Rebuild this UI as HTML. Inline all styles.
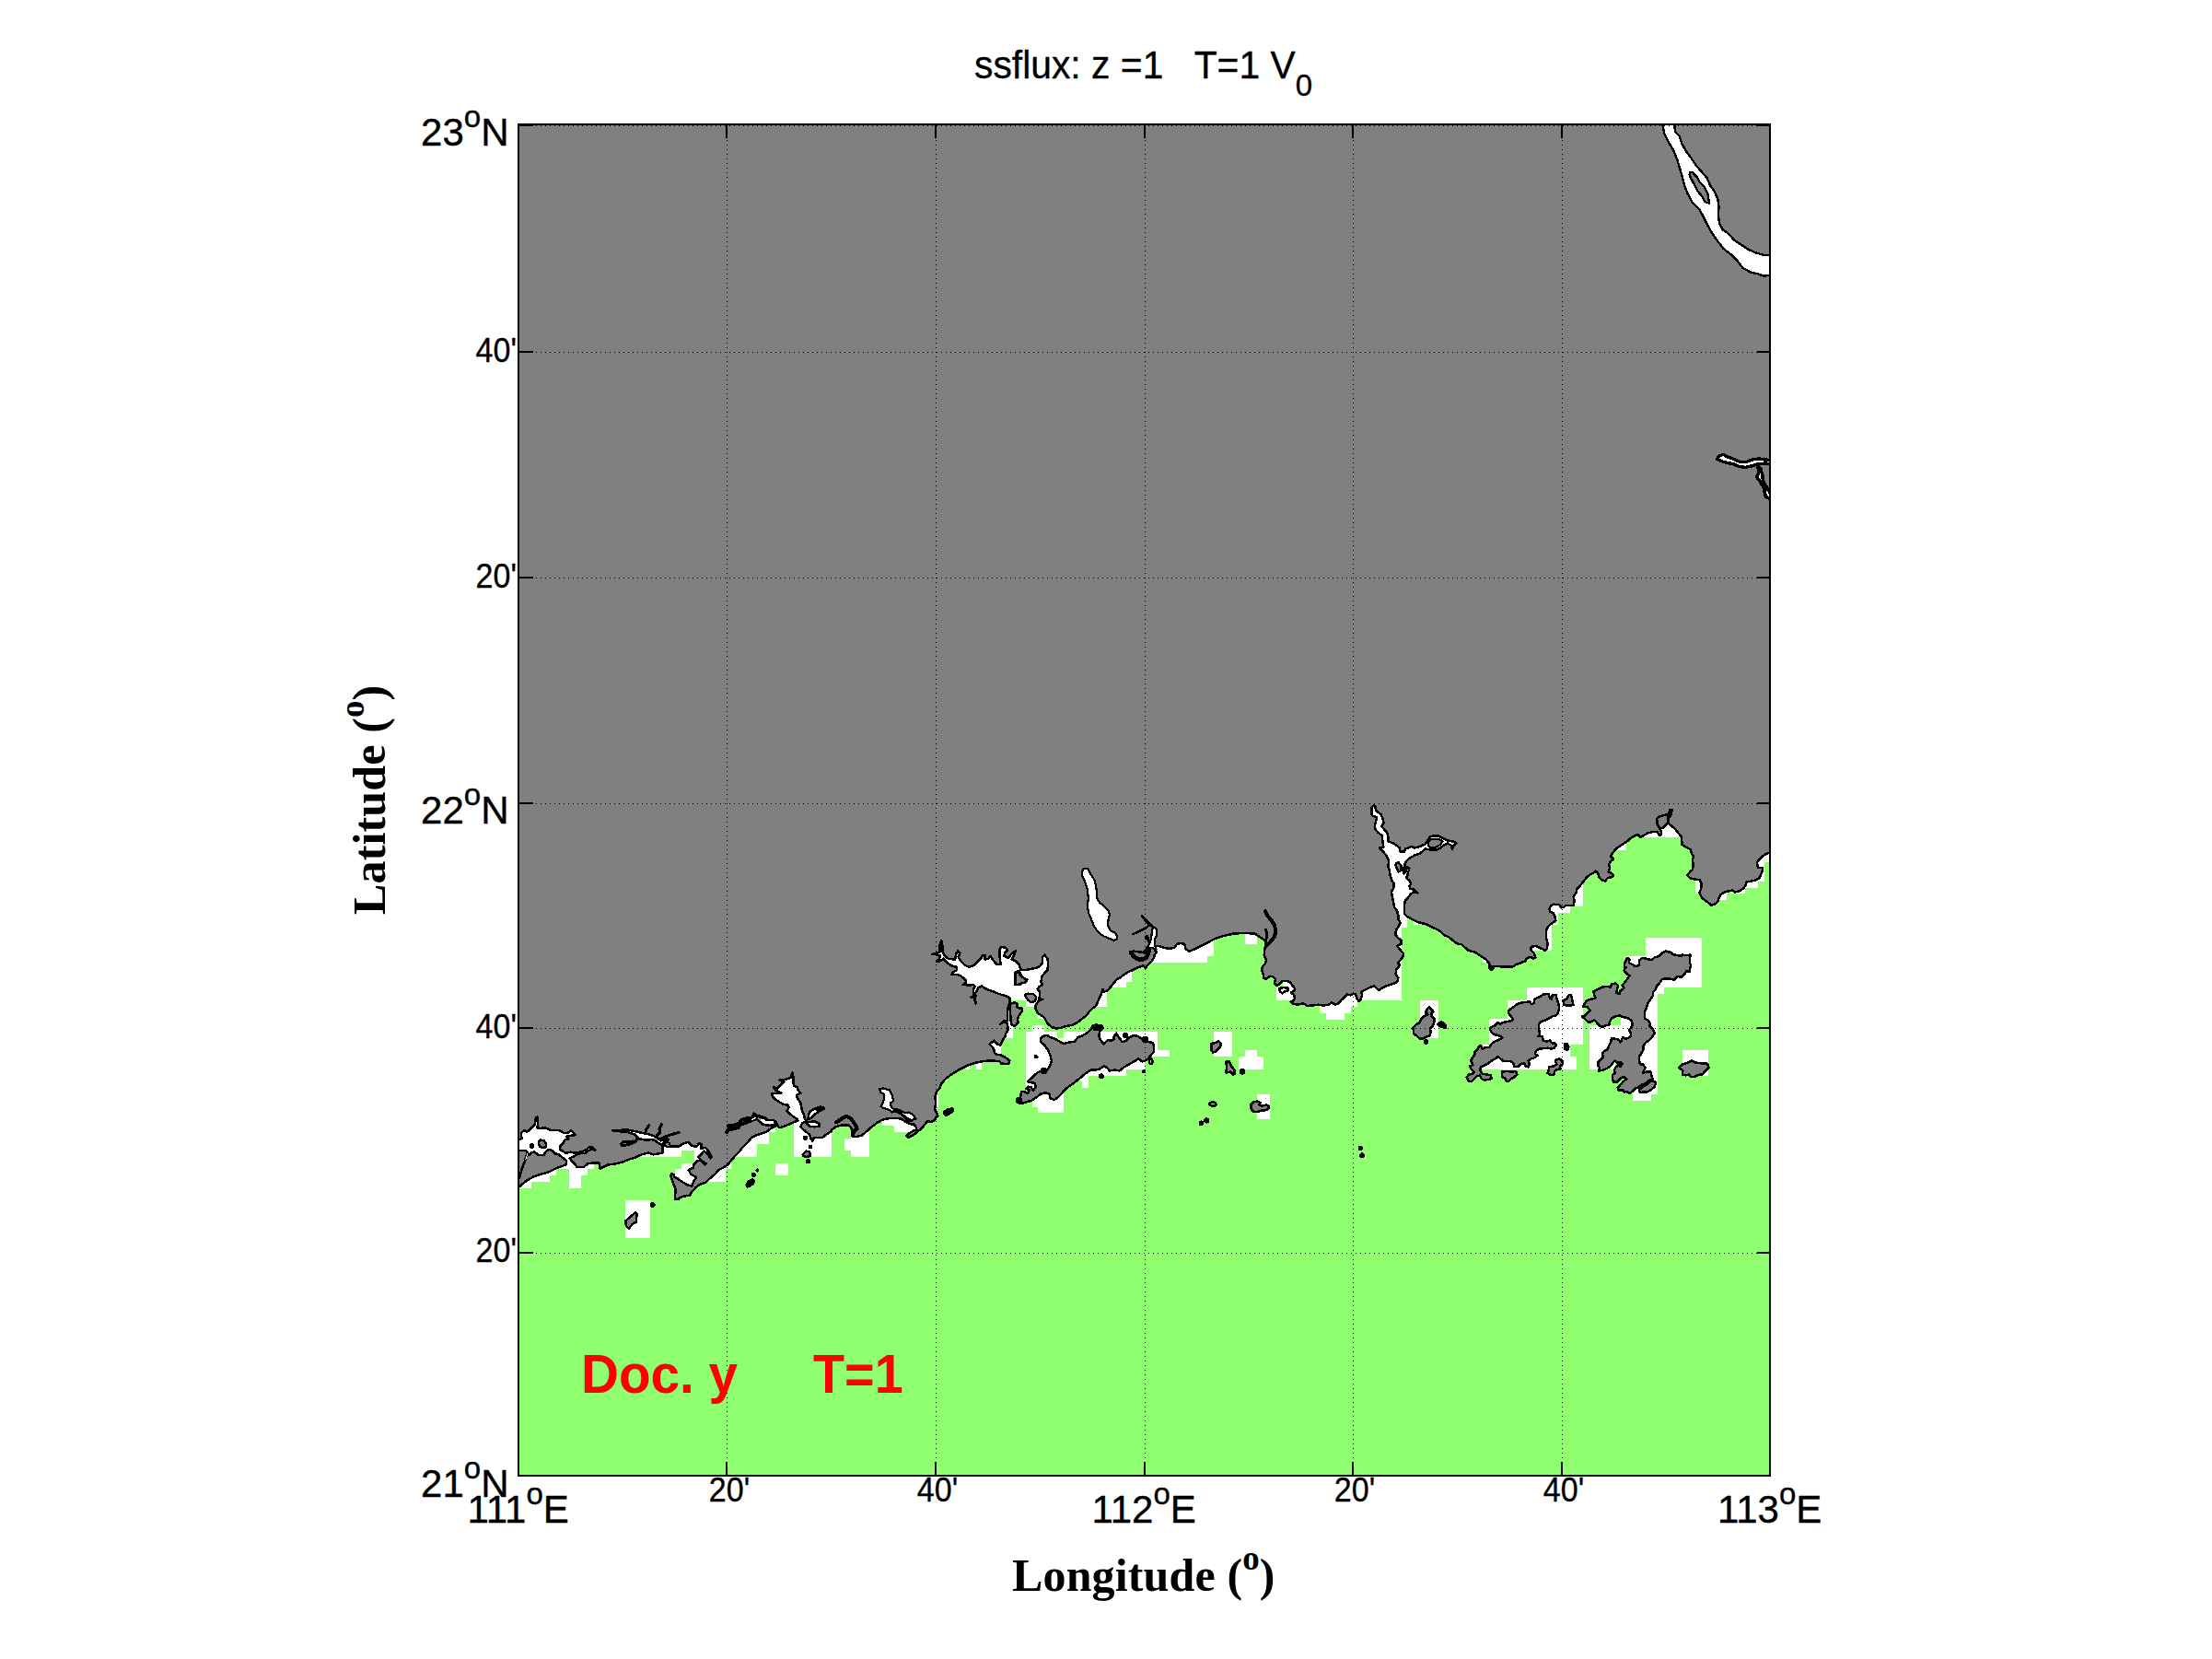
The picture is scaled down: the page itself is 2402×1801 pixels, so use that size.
<!DOCTYPE html><html><head><meta charset="utf-8"><title>ssflux</title><style>
html,body{margin:0;padding:0;background:#fff;}
#fig{position:relative;width:2402px;height:1801px;overflow:hidden;background:#fff;font-family:"Liberation Sans",sans-serif;color:#000;}
.t{position:absolute;white-space:nowrap;line-height:1;}
.big{font-size:42px;-webkit-text-stroke:0.35px #000;}
.sm{font-size:36px;-webkit-text-stroke:0.35px #000;}
.sup{font-size:33px;position:relative;top:-20px;}
.ser{font-family:"Liberation Serif",serif;font-weight:bold;font-size:50px;letter-spacing:0.15px;}
.ser .sp{font-size:37px;position:relative;top:-23.5px;letter-spacing:0;}
</style></head><body><div id="fig">
<svg width="2402" height="1801" viewBox="0 0 2402 1801" style="position:absolute;left:0;top:0">
<defs><clipPath id="cp"><rect x="563.0" y="135.0" width="1359.0" height="1467.0"/></clipPath></defs>
<g clip-path="url(#cp)" shape-rendering="crispEdges">
<rect x="563.0" y="135.0" width="1359.0" height="1467.0" fill="#8fff70"/>
<g fill="#fff" stroke="none">
<polygon points="561.4,1209.0 561.4,1290.0 577.0,1290.0 577.0,1283.0 597.1,1283.0 597.1,1276.2 603.9,1276.2 603.9,1269.2 617.9,1269.2 617.9,1290.0 631.0,1290.0 631.0,1276.2 638.0,1276.2 638.0,1269.2 645.1,1269.2 645.1,1209.0"/>
<polygon points="697.0,1255.9 740.0,1255.9 740.0,1249.1 754.0,1249.1 754.0,1263.3 740.0,1263.3 740.0,1268.7 733.0,1268.7 733.0,1281.4 745.9,1285.9 756.0,1281.4 773.0,1263.3 773.0,1236.2 697.0,1236.2"/>
<polygon points="679.1,1303.1 706.1,1303.1 706.1,1343.8 679.1,1343.8"/>
<polygon points="767.1,1283.0 787.9,1283.0 787.9,1269.2 794.0,1269.2 794.0,1258.6 767.1,1278.5"/>
<polygon points="796.1,1255.9 822.0,1255.9 822.0,1242.1 835.2,1242.1 835.2,1228.6 842.2,1228.6 842.2,1220.6 830.4,1224.2 796.1,1251.4"/>
<polygon points="862.1,1218.8 862.1,1255.9 903.0,1255.9 903.0,1224.2 893.7,1206.2 875.6,1162.8 834.9,1162.8 834.9,1197.1 857.5,1218.8"/>
<polygon points="842.0,1263.1 856.0,1263.1 856.0,1276.0 842.0,1276.0"/>
<polygon points="924.0,1230.6 924.0,1236.1 917.2,1236.1 917.2,1248.9 924.0,1248.9 924.0,1255.8 944.0,1255.8 944.0,1223.4 936.2,1230.6"/>
<polygon points="900.0,1229.7 903.2,1229.7 903.2,1255.9 900.0,1255.9"/>
<polygon points="957.9,1214.4 957.9,1222.0 971.0,1222.0 971.0,1228.8 988.2,1228.8 995.4,1225.2 990.4,1218.9 972.3,1211.6"/>
<polygon points="1014.8,1189.0 1018.9,1189.0 1018.9,1202.2 1014.8,1202.2"/>
<polygon points="1060.0,1152.3 1065.8,1152.3 1065.8,1160.7 1060.0,1160.7"/>
<polygon points="1049.3,1156.9 1052.9,1155.9 1052.9,1160.5 1049.3,1160.5"/>
<polygon points="1075.5,1133.3 1086.8,1134.7 1086.8,1145.1 1080.9,1145.1"/>
<polygon points="1095.4,1116.2 1099.9,1116.2 1099.9,1126.6 1090.0,1126.6"/>
<polygon points="1008.1,1018.1 1143.7,1018.1 1143.7,1090.4 1123.8,1092.9 1113.9,1092.9 1113.9,1086.1 1099.9,1086.1 1094.0,1086.1 1044.2,1090.4 1008.1,1054.2"/>
<polygon points="1089.5,1108.5 1099.9,1108.5 1099.9,1126.6 1089.5,1126.6"/>
<polygon points="1087.2,1130.2 1087.2,1144.7 1078.6,1144.7 1075.0,1133.8"/>
<polygon points="1127.4,1099.5 1134.7,1105.8 1127.4,1105.8"/>
<polygon points="1114.1,1120.3 1121.2,1120.3 1121.2,1113.4 1134.0,1113.4 1134.0,1120.3 1148.3,1120.3 1148.3,1126.7 1154.9,1126.7 1154.9,1120.3 1257.0,1120.3 1257.0,1140.2 1269.9,1140.2 1269.9,1146.8 1249.1,1146.8 1242.8,1153.3 1242.8,1161.0 1222.9,1161.0 1222.9,1167.8 1182.0,1167.8 1182.0,1180.7 1175.2,1180.7 1175.2,1174.1 1169.6,1171.4 1155.1,1181.4 1154.9,1207.9 1127.1,1207.9 1127.1,1201.7 1121.2,1201.7 1121.2,1194.9 1117.1,1190.4 1117.1,1181.4 1114.1,1181.4"/>
<polygon points="1126.2,1100.0 1130.7,1102.7 1130.7,1105.9 1127.1,1105.9"/>
<polygon points="1244.7,1020.4 1250.5,1045.0 1300.0,1045.0 1300.0,1020.4"/>
<polygon points="1280.0,1018.8 1318.0,1018.8 1318.0,1038.2 1311.2,1038.2 1311.2,1045.0 1259.2,1045.0 1259.2,1018.8"/>
<polygon points="1229.3,1052.1 1229.3,1065.6 1223.0,1065.6 1223.0,1072.1 1202.2,1072.1 1202.2,1092.9 1189.5,1092.9 1185.0,1083.7 1190.4,1074.7 1226.6,1047.5"/>
<polygon points="1352.1,1012.4 1365.0,1014.2 1365.0,1024.9 1352.1,1024.9"/>
<polygon points="1393.0,1064.0 1408.4,1064.0 1408.4,1085.7 1386.2,1085.7 1386.2,1072.1 1393.0,1072.1"/>
<polygon points="1433.1,1089.3 1433.1,1100.0 1440.0,1100.0 1440.0,1106.6 1459.9,1106.6 1459.9,1100.0 1467.0,1100.0 1467.0,1092.9 1473.9,1092.9 1473.9,1080.3 1460.8,1077.5 1442.7,1086.6"/>
<polygon points="1522.2,1004.0 1522.2,1085.8 1474.0,1085.8 1474.5,1078.6 1514.2,1062.3 1514.2,1004.0"/>
<polygon points="1522.2,1004.0 1528.3,1004.0 1528.3,998.1 1535.0,998.1 1535.0,1003.6 1541.4,1003.6 1541.4,999.0 1532.3,990.0 1514.2,990.0 1514.2,1004.0"/>
<polygon points="1485.2,869.0 1584.7,896.2 1584.7,927.8 1534.9,950.4 1544.0,977.5 1534.5,998.3 1528.2,998.3 1528.2,1006.5 1521.8,1006.5 1516.9,1008.3 1503.3,1004.7 1503.3,950.4 1485.2,905.2"/>
<polygon points="1610.1,1038.8 1615.5,1042.0 1615.5,1045.2 1610.1,1045.2"/>
<polygon points="1542.0,1086.0 1562.0,1086.0 1562.0,1127.0 1542.0,1127.0"/>
<polygon points="1718.9,975.5 1718.9,984.1 1704.9,984.1 1704.9,990.8 1692.2,990.8 1692.2,1003.5 1685.0,1003.5 1685.0,1032.0 1662.4,1032.0 1662.4,1025.2 1676.9,1025.2 1676.9,975.5"/>
<polygon points="1719.1,956.9 1719.1,984.0 1708.7,984.0 1706.9,970.4 1712.3,956.9"/>
<polygon points="1609.9,1038.8 1613.6,1042.4 1613.6,1044.6 1609.9,1044.6"/>
<polygon points="1766.2,1038.0 1787.0,1038.0 1787.0,1018.1 1848.0,1018.1 1848.0,1072.1 1807.1,1072.1 1807.1,1078.8 1800.1,1078.8 1800.1,1153.7 1780.7,1153.7 1780.7,1090.4 1794.2,1063.3 1776.2,1054.2 1766.2,1043.4"/>
<polygon points="1800.1,1095.5 1800.1,1187.7 1793.1,1187.7 1793.1,1194.9 1773.0,1194.9 1773.0,1184.1 1785.2,1172.3 1776.2,1145.2 1785.2,1100.0"/>
<polygon points="1827.0,1140.1 1855.0,1140.1 1855.0,1167.8 1827.0,1167.8"/>
<polygon points="1749.0,1156.1 1753.6,1154.2 1753.6,1160.6 1749.0,1160.6"/>
<polygon points="1658.2,1072.2 1719.0,1072.2 1719.0,1133.9 1705.2,1133.9 1705.2,1147.2 1712.0,1147.2 1712.0,1160.8 1608.5,1160.8 1608.5,1154.0 1620.7,1140.4 1610.3,1138.2 1610.3,1134.1 1617.1,1134.1 1617.1,1106.2 1637.1,1106.2 1637.1,1086.2 1658.2,1086.2"/>
<polygon points="1726.2,1113.3 1759.9,1113.3 1759.9,1104.2 1774.4,1104.2 1774.4,1131.4 1751.8,1131.4 1735.5,1160.8 1726.2,1160.8"/>
<polygon points="1784.4,909.0 1825.6,909.0 1825.6,904.2 1812.0,892.5 1802.5,900.6 1799.8,901.5 1787.1,904.2"/>
<polygon points="1766.1,912.5 1766.1,922.9 1756.6,922.9 1754.8,919.8"/>
<polygon points="1841.4,954.9 1841.4,969.8 1846.8,969.8 1849.5,955.8"/>
<polygon points="1874.8,967.5 1874.8,976.6 1865.8,976.6 1868.5,970.3"/>
<polygon points="1925.5,924.1 1925.5,935.9 1916.0,935.9 1916.0,956.7 1909.2,956.7 1909.2,963.5 1895.2,963.5 1895.2,969.8 1880.3,969.8 1880.3,964.8 1891.1,958.5 1904.7,949.5 1904.7,931.4 1913.7,926.9"/>
<polygon points="1318.0,1120.1 1338.0,1120.1 1338.0,1147.0 1318.0,1147.0"/>
<polygon points="1352.1,1140.2 1365.0,1140.2 1365.0,1147.0 1372.0,1147.0 1372.0,1161.0 1345.1,1161.0 1345.1,1147.0 1352.1,1147.0"/>
<polygon points="1365.0,1188.2 1379.0,1188.2 1379.0,1215.0 1365.0,1215.0"/>
</g></g>
<g clip-path="url(#cp)" stroke-linejoin="round" stroke-linecap="round" shape-rendering="crispEdges">
<polygon points="558.0,130.0 558.0,1237.1 564.1,1237.1 566.4,1236.2 565.9,1229.8 569.6,1227.1 572.3,1228.9 577.7,1224.0 580.9,1220.8 581.8,1213.6 583.6,1212.7 584.0,1220.8 583.1,1224.4 586.7,1224.9 592.2,1224.4 597.6,1226.7 603.0,1227.1 607.5,1227.1 612.1,1229.8 616.6,1229.8 620.2,1227.1 625.2,1232.1 618.4,1233.0 614.8,1233.9 617.5,1236.6 613.9,1237.1 611.6,1240.7 608.4,1244.3 608.0,1247.9 612.1,1250.2 614.8,1252.0 619.3,1250.6 623.8,1251.7 628.3,1251.1 632.9,1249.9 637.4,1247.7 640.1,1245.2 643.3,1245.7 646.4,1248.4 641.9,1247.9 638.7,1249.5 635.6,1252.0 631.0,1251.7 626.5,1253.3 622.9,1255.6 618.4,1257.4 621.1,1260.6 623.8,1263.3 626.5,1266.9 633.8,1266.9 638.3,1263.3 644.6,1262.4 650.5,1262.4 651.8,1269.2 654.1,1267.4 660.0,1264.6 669.0,1263.3 676.3,1261.5 682.6,1258.8 689.8,1256.5 697.0,1253.3 704.3,1251.5 709.7,1253.3 715.1,1252.4 719.5,1251.5 719.5,1246.1 721.5,1242.9 725.1,1244.8 729.6,1244.3 733.2,1244.3 737.7,1244.3 741.4,1241.6 747.7,1239.8 750.4,1242.5 748.1,1240.1 749.9,1243.2 756.3,1245.0 759.4,1241.0 761.7,1242.3 760.8,1246.9 766.2,1245.9 769.8,1250.5 773.0,1256.3 771.6,1257.3 767.1,1251.4 764.4,1249.6 760.8,1254.1 758.1,1255.9 763.5,1261.3 766.7,1263.1 765.3,1264.5 760.3,1259.5 757.2,1260.4 753.6,1264.0 752.7,1267.6 747.7,1270.4 750.4,1274.9 756.3,1278.0 753.6,1282.1 751.3,1287.5 747.2,1286.6 740.0,1282.6 735.9,1279.6 732.3,1277.8 731.4,1275.0 729.1,1274.1 728.2,1276.9 730.1,1281.4 731.9,1286.8 733.7,1291.3 733.2,1296.7 732.8,1301.3 735.9,1302.2 739.5,1299.5 745.0,1298.1 749.0,1297.9 751.3,1293.9 755.4,1289.3 759.9,1285.7 766.2,1283.9 770.7,1279.4 776.2,1274.9 779.8,1270.4 785.2,1267.6 790.6,1264.0 794.2,1259.5 798.8,1254.1 803.3,1249.6 805.1,1246.9 808.7,1243.2 812.3,1239.6 815.9,1235.1 821.4,1232.4 826.8,1230.6 832.2,1228.8 836.7,1225.2 842.2,1222.4 844.0,1221.5 846.2,1224.2 851.2,1222.9 857.5,1220.2 863.0,1217.9 866.6,1216.6 864.8,1214.3 861.2,1212.0 857.5,1208.9 854.4,1206.2 856.6,1202.5 855.7,1199.8 850.3,1198.5 845.8,1196.2 842.2,1193.5 839.0,1190.8 838.1,1187.2 844.0,1187.2 848.5,1186.3 842.2,1183.6 839.9,1179.9 844.0,1181.8 846.7,1179.0 851.2,1174.5 846.7,1172.3 853.0,1171.8 858.4,1170.0 860.3,1164.6 861.6,1170.0 861.6,1175.4 862.1,1179.0 865.7,1179.9 866.6,1183.6 869.3,1186.3 864.8,1189.0 866.6,1193.5 869.3,1197.1 870.2,1201.6 871.1,1206.2 872.9,1209.8 873.8,1214.3 875.6,1217.0 871.1,1219.3 869.3,1222.9 872.0,1226.1 875.6,1228.8 878.8,1231.5 880.6,1236.0 882.4,1238.7 883.8,1235.1 888.3,1235.1 892.8,1235.1 897.3,1231.5 902.7,1227.9 903.6,1226.1 908.1,1222.9 913.6,1221.6 921.7,1221.6 924.0,1224.3 925.8,1227.0 925.3,1231.5 927.1,1234.2 930.7,1233.8 936.2,1232.4 939.8,1229.3 944.3,1225.2 948.8,1221.6 953.3,1218.4 957.9,1215.7 963.3,1214.4 968.7,1213.9 974.1,1213.9 978.7,1214.8 981.4,1216.6 985.0,1218.4 988.6,1220.2 992.2,1220.7 994.5,1223.4 995.4,1226.1 991.3,1227.9 986.8,1230.6 984.5,1232.9 985.9,1235.2 989.5,1233.3 993.1,1231.1 995.8,1228.8 997.2,1227.9 1000.4,1225.2 1004.0,1221.1 1007.1,1217.1 1011.2,1218.0 1014.8,1216.2 1016.6,1213.0 1018.4,1211.2 1016.6,1207.1 1014.8,1203.5 1016.2,1199.0 1015.7,1193.6 1015.7,1189.0 1017.5,1184.5 1021.2,1180.5 1021.3,1177.6 1026.7,1171.3 1033.9,1165.9 1041.2,1161.4 1050.2,1156.9 1059.2,1153.7 1068.3,1151.9 1077.3,1151.4 1085.5,1152.3 1087.3,1154.6 1095.4,1155.0 1096.3,1151.4 1091.8,1147.8 1086.4,1145.1 1082.7,1145.1 1080.0,1143.3 1079.1,1138.8 1076.4,1135.2 1074.6,1133.3 1079.6,1129.7 1082.7,1133.3 1086.4,1134.7 1089.1,1128.8 1091.8,1124.3 1092.2,1122.1 1094.9,1117.5 1094.0,1113.0 1093.1,1109.4 1089.5,1109.4 1085.8,1112.1 1089.5,1108.5 1094.0,1107.6 1094.0,1099.5 1094.9,1092.2 1096.7,1087.7 1096.7,1084.1 1094.0,1081.8 1089.5,1080.5 1084.0,1078.7 1078.6,1076.4 1073.2,1074.6 1068.7,1072.3 1065.9,1070.5 1062.3,1072.3 1060.5,1075.9 1058.7,1078.7 1059.6,1081.4 1054.6,1082.7 1058.7,1083.6 1059.6,1089.5 1058.3,1085.0 1056.9,1078.7 1056.9,1074.1 1058.7,1070.5 1056.9,1068.7 1053.3,1069.6 1048.8,1069.2 1045.6,1069.2 1048.8,1066.9 1048.8,1064.2 1046.1,1061.5 1042.4,1058.8 1038.8,1057.9 1033.4,1057.9 1035.2,1055.2 1038.8,1053.3 1038.8,1049.7 1034.3,1048.8 1029.8,1046.1 1027.1,1043.4 1024.4,1040.7 1020.7,1043.4 1016.7,1043.9 1019.8,1041.1 1021.2,1037.1 1016.2,1036.2 1011.7,1036.2 1017.1,1034.4 1020.7,1033.5 1020.3,1027.1 1022.1,1020.8 1023.5,1027.1 1023.5,1033.5 1026.2,1038.0 1029.8,1040.7 1037.0,1041.6 1038.4,1035.3 1040.2,1032.5 1042.4,1034.8 1040.6,1038.9 1043.3,1043.4 1047.9,1047.9 1052.4,1049.7 1056.9,1048.4 1061.4,1044.3 1065.0,1040.7 1066.9,1037.1 1069.6,1037.1 1069.6,1041.6 1073.2,1040.7 1075.4,1038.0 1078.6,1042.5 1082.2,1047.0 1086.7,1047.0 1085.8,1040.7 1085.4,1034.4 1085.8,1029.8 1087.6,1028.0 1092.2,1028.9 1094.0,1031.6 1091.3,1034.4 1090.4,1038.0 1094.9,1039.8 1098.5,1035.3 1103.0,1032.1 1101.2,1037.1 1098.5,1041.6 1103.0,1043.4 1106.6,1047.0 1108.4,1052.4 1113.0,1053.3 1119.3,1052.0 1125.6,1050.6 1129.2,1048.8 1132.0,1045.2 1132.0,1038.9 1134.2,1036.6 1137.4,1040.7 1138.3,1046.1 1137.4,1053.3 1133.8,1057.0 1131.0,1060.6 1130.6,1066.9 1132.0,1068.7 1128.3,1071.4 1126.5,1073.7 1129.2,1076.9 1128.8,1081.4 1128.3,1084.1 1132.4,1085.0 1128.3,1085.9 1126.5,1088.6 1124.7,1091.3 1124.7,1095.8 1127.4,1100.4 1132.0,1103.1 1134.7,1105.8 1137.4,1111.2 1141.9,1114.8 1147.3,1116.6 1152.7,1115.7 1158.2,1113.9 1165.4,1112.6 1170.8,1109.4 1175.4,1105.8 1179.9,1102.2 1182.6,1098.6 1186.2,1094.9 1190.0,1092.2 1195.4,1080.0 1196.7,1076.5 1197.6,1073.8 1199.0,1076.5 1202.2,1075.6 1204.9,1072.9 1208.5,1068.3 1212.1,1063.8 1215.7,1061.6 1220.3,1058.4 1224.8,1055.2 1230.2,1053.0 1235.6,1050.3 1241.0,1048.4 1243.8,1050.7 1246.5,1047.5 1250.1,1043.9 1252.8,1040.3 1253.7,1036.7 1255.5,1034.0 1255.1,1030.4 1253.7,1028.1 1254.6,1026.7 1259.1,1027.2 1264.6,1029.0 1270.0,1029.9 1275.4,1028.6 1278.1,1024.9 1281.7,1024.0 1286.3,1024.9 1287.7,1030.5 1291.3,1032.8 1298.1,1030.1 1304.4,1026.9 1310.7,1023.7 1318.0,1019.7 1325.2,1017.0 1332.4,1015.2 1340.6,1013.3 1350.5,1013.2 1362.3,1013.3 1367.7,1017.0 1374.0,1021.0 1374.5,1025.1 1374.0,1026.9 1373.1,1032.3 1372.7,1036.9 1374.9,1042.3 1374.0,1045.9 1371.3,1048.6 1370.0,1053.1 1371.8,1057.6 1372.2,1062.2 1374.9,1062.6 1378.6,1059.9 1382.2,1059.9 1384.9,1063.1 1384.0,1067.6 1385.8,1069.9 1389.4,1068.5 1392.1,1065.3 1397.5,1064.9 1401.2,1066.7 1403.9,1070.3 1406.1,1073.5 1404.8,1076.2 1402.1,1077.5 1405.2,1080.3 1406.1,1083.9 1403.9,1086.6 1401.6,1087.5 1403.0,1089.3 1409.3,1090.7 1414.7,1089.3 1417.4,1090.2 1419.2,1092.0 1424.7,1091.6 1431.9,1090.7 1437.3,1091.6 1442.7,1090.7 1446.4,1088.4 1450.0,1090.7 1453.6,1089.3 1456.3,1085.7 1459.9,1083.0 1462.6,1079.3 1466.3,1080.3 1469.9,1078.9 1471.8,1079.1 1473.6,1084.0 1475.8,1087.2 1478.1,1084.0 1479.0,1079.5 1478.1,1076.8 1483.5,1074.1 1488.0,1071.8 1492.5,1070.5 1497.1,1075.0 1500.7,1072.7 1505.2,1070.5 1510.6,1068.7 1515.2,1066.9 1517.9,1065.0 1518.3,1061.4 1515.6,1057.8 1516.1,1052.4 1518.8,1049.7 1520.1,1047.9 1517.9,1045.2 1520.6,1042.4 1523.3,1038.8 1524.2,1035.2 1521.5,1032.5 1518.8,1028.9 1517.0,1027.1 1521.5,1024.8 1521.5,1020.7 1517.9,1018.0 1515.2,1014.4 1516.1,1009.9 1515.9,1010.0 1518.7,1005.6 1520.9,1002.0 1518.7,998.3 1518.2,992.9 1516.9,988.4 1514.1,984.8 1513.2,980.3 1512.3,975.7 1511.4,971.2 1511.0,967.6 1513.2,964.9 1513.7,959.5 1511.4,955.8 1509.6,950.4 1508.7,945.0 1507.4,940.5 1508.3,935.0 1506.0,929.6 1502.4,925.1 1497.9,920.1 1502.4,919.7 1501.5,914.2 1500.6,907.0 1496.1,903.4 1493.3,899.8 1492.9,896.2 1494.2,891.6 1495.2,887.1 1491.5,886.2 1489.3,884.4 1489.3,876.7 1492.0,874.5 1493.3,875.8 1494.2,879.9 1499.7,884.4 1501.9,889.8 1502.4,893.5 1500.6,897.1 1503.3,900.7 1506.5,904.3 1507.4,908.8 1507.4,913.3 1512.3,915.2 1516.9,917.9 1520.0,920.6 1520.5,924.6 1525.0,924.6 1525.9,921.5 1531.3,919.7 1533.1,918.8 1535.8,920.6 1542.2,918.8 1547.6,916.5 1550.3,912.4 1553.0,908.4 1556.6,907.5 1562.1,907.6 1566.6,909.7 1572.0,912.4 1579.2,913.8 1581.5,915.6 1578.3,917.9 1577.0,921.5 1576.1,917.9 1572.0,915.6 1568.4,917.0 1563.9,920.6 1559.3,922.8 1553.0,922.4 1547.6,921.5 1544.9,924.2 1541.3,926.9 1535.8,928.7 1530.4,931.9 1526.8,935.0 1525.0,939.6 1526.8,940.9 1530.4,942.7 1529.1,946.8 1528.2,951.3 1526.8,953.1 1530.4,955.8 1532.2,959.5 1530.4,962.2 1531.3,964.9 1535.8,965.8 1539.5,969.4 1534.9,968.5 1532.2,970.3 1528.6,974.8 1525.9,977.5 1525.0,982.1 1525.0,987.5 1525.0,992.0 1527.7,994.7 1534.0,998.3 1539.5,1001.0 1548.5,1003.3 1554.8,1006.5 1561.2,1009.2 1564.9,1011.7 1568.5,1015.3 1573.0,1017.1 1577.5,1020.7 1582.1,1024.4 1587.5,1025.3 1591.1,1028.9 1594.7,1032.0 1601.0,1033.4 1605.6,1036.1 1610.1,1039.3 1613.7,1041.5 1617.3,1046.1 1617.3,1050.6 1619.1,1052.8 1621.8,1051.5 1621.8,1048.8 1628.2,1049.2 1635.4,1049.7 1643.5,1049.2 1646.3,1047.0 1651.7,1045.2 1656.2,1043.3 1658.0,1040.2 1661.5,1038.8 1665.1,1040.6 1667.4,1039.2 1666.0,1035.2 1663.3,1032.4 1661.9,1029.7 1664.2,1027.5 1667.8,1027.0 1671.4,1028.8 1675.0,1030.2 1677.8,1032.0 1679.6,1030.6 1680.7,1024.7 1679.3,1019.2 1678.9,1013.8 1678.9,1010.2 1681.1,1005.7 1683.4,1003.4 1687.0,1001.2 1689.3,999.3 1688.4,994.8 1686.6,991.2 1683.4,989.9 1682.5,986.7 1684.3,983.1 1687.0,981.7 1693.3,982.2 1695.2,985.3 1697.9,984.9 1700.1,983.1 1705.1,983.1 1708.7,983.1 1709.6,977.6 1708.7,973.1 1711.4,969.5 1712.3,965.0 1715.9,961.4 1719.6,956.9 1723.2,952.3 1726.8,949.2 1730.4,947.8 1732.7,945.6 1734.9,947.4 1736.3,951.9 1739.5,955.5 1743.1,956.4 1745.8,953.2 1749.4,952.3 1752.1,951.0 1749.9,947.8 1746.7,946.5 1748.0,942.4 1747.1,937.9 1749.9,934.2 1752.1,932.9 1749.0,929.3 1751.7,925.2 1755.7,920.7 1761.2,917.1 1766.6,913.5 1771.1,909.8 1775.6,907.1 1778.3,905.8 1781.0,908.9 1784.7,907.1 1789.2,904.4 1791.6,903.8 1796.2,902.9 1799.8,903.3 1802.0,907.0 1804.3,906.1 1803.9,902.4 1801.6,898.8 1799.8,895.2 1798.9,888.9 1801.6,886.6 1807.9,884.8 1811.5,884.4 1813.3,879.4 1815.6,879.4 1814.2,885.3 1811.5,888.9 1812.0,894.3 1815.2,896.6 1818.8,899.7 1822.4,904.2 1826.0,908.8 1826.5,916.9 1830.5,919.6 1835.9,922.3 1836.9,926.9 1839.1,930.0 1837.8,933.2 1838.7,939.5 1837.8,944.0 1835.0,946.7 1832.3,950.4 1835.0,953.1 1839.6,954.4 1845.9,955.3 1847.3,958.5 1847.7,963.0 1846.8,965.7 1845.4,969.3 1848.2,974.8 1852.2,977.9 1855.8,980.7 1858.1,982.5 1861.3,982.0 1864.9,979.3 1866.7,974.8 1868.5,971.2 1873.0,968.4 1878.4,967.1 1881.2,966.6 1883.9,968.4 1888.4,967.5 1892.9,964.8 1895.6,961.2 1896.5,957.6 1901.0,956.7 1906.5,955.3 1911.0,953.1 1912.4,948.6 1914.2,944.9 1913.7,941.8 1909.2,942.2 1907.8,936.8 1910.1,933.2 1913.7,929.6 1917.3,927.3 1921.8,925.5 1925.5,925.0 1927.0,925.0 1927.0,130.0" fill="#808080" stroke="#000" stroke-width="2.5"/>
<g fill="#808080" stroke="#000" stroke-width="2.5">
<polygon points="561.4,1248.8 570.5,1248.8 572.7,1250.6 572.3,1254.2 574.1,1254.2 577.7,1251.1 580.4,1250.6 584.9,1254.2 590.4,1254.2 592.2,1250.6 595.8,1247.9 599.4,1248.8 603.0,1252.4 606.6,1253.3 611.2,1257.0 615.2,1260.1 614.8,1264.2 610.2,1266.0 603.0,1268.7 595.8,1272.3 586.7,1275.0 578.6,1277.8 572.3,1281.4 567.8,1285.0 564.1,1288.2 561.4,1290.4"/>
<polygon points="586.3,1237.5 590.4,1238.0 593.1,1241.6 592.6,1245.2 589.5,1246.1 585.8,1244.3 584.8,1240.7"/>
<polygon points="689.8,1316.2 691.6,1317.5 690.7,1326.6 686.2,1329.3 683.0,1333.8 679.9,1331.1 679.4,1325.2 684.4,1321.2"/>
<polygon points="871.6,1253.2 875.6,1249.6 879.2,1250.5 879.7,1255.0 875.6,1255.9 872.0,1255.0"/>
<polygon points="1096.7,1090.4 1101.2,1088.2 1104.4,1089.5 1104.8,1094.0 1110.3,1094.9 1109.3,1098.6 1106.6,1102.2 1104.8,1106.7 1105.7,1109.9 1102.1,1113.9 1098.5,1112.6 1097.6,1108.5 1097.1,1099.5"/>
<polygon points="1102.6,1055.2 1106.6,1054.2 1109.3,1059.7 1115.2,1064.2 1106.6,1069.2 1102.6,1069.2"/>
<polygon points="1113.0,1080.0 1116.6,1078.7 1122.0,1079.1 1125.2,1082.3 1123.8,1086.8 1119.3,1088.2 1116.1,1085.4 1114.3,1082.7"/>
<polygon points="1102.3,1055.7 1105.9,1055.2 1109.0,1060.2 1115.4,1063.8 1113.6,1066.5 1109.0,1067.4 1105.4,1069.2 1102.7,1068.3"/>
<polygon points="1129.8,1128.0 1132.5,1124.9 1137.0,1123.7 1140.6,1126.2 1146.1,1128.0 1150.6,1130.7 1155.1,1133.0 1160.5,1131.6 1166.9,1130.7 1170.5,1126.2 1175.9,1124.0 1181.3,1120.8 1184.9,1117.2 1186.7,1113.6 1189.5,1112.7 1192.2,1114.5 1196.2,1113.6 1197.6,1116.3 1194.0,1119.4 1193.5,1125.3 1194.9,1128.9 1198.5,1133.5 1203.0,1128.9 1206.6,1129.8 1209.3,1128.9 1209.8,1124.9 1212.1,1121.7 1215.7,1127.1 1218.8,1131.2 1222.9,1129.8 1226.5,1126.2 1231.0,1124.0 1235.6,1124.9 1240.1,1128.0 1243.7,1126.2 1246.4,1130.7 1251.8,1132.1 1253.2,1136.2 1252.7,1142.5 1250.0,1145.2 1247.3,1148.8 1243.7,1151.5 1240.1,1152.4 1236.5,1149.3 1232.0,1152.0 1225.6,1155.6 1220.2,1158.8 1215.7,1162.4 1210.3,1161.5 1204.8,1162.4 1202.1,1158.8 1198.5,1157.4 1194.0,1160.6 1189.5,1161.5 1184.9,1161.5 1180.4,1164.2 1175.9,1167.8 1171.4,1171.4 1165.9,1175.9 1160.5,1179.6 1156.0,1183.2 1152.4,1187.7 1148.8,1191.3 1144.7,1194.0 1140.6,1192.2 1139.3,1187.7 1135.2,1186.3 1129.8,1187.7 1125.3,1191.3 1119.8,1194.9 1114.4,1196.3 1109.4,1198.1 1104.9,1195.8 1104.5,1192.7 1108.1,1191.3 1109.0,1185.4 1111.7,1185.0 1115.8,1186.8 1118.0,1183.6 1114.4,1181.8 1116.2,1179.6 1119.8,1180.5 1122.1,1183.6 1124.8,1179.6 1123.5,1175.9 1118.9,1175.0 1115.8,1174.1 1118.9,1171.4 1122.5,1167.8 1127.1,1164.2 1131.1,1162.4 1133.4,1160.6 1137.0,1161.5 1139.7,1157.9 1142.0,1152.0 1140.6,1146.1 1137.9,1139.8 1134.3,1134.8 1130.7,1131.6"/>
<polygon points="1551.8,1093.1 1554.5,1095.8 1556.7,1098.5 1554.0,1100.3 1554.9,1103.9 1557.6,1105.7 1557.2,1110.3 1555.8,1113.9 1553.1,1116.6 1553.6,1121.1 1552.2,1124.7 1548.6,1125.6 1545.0,1127.4 1541.4,1127.4 1538.7,1124.7 1535.0,1122.0 1534.6,1115.7 1537.8,1112.1 1541.4,1110.3 1543.6,1105.7 1546.8,1103.0 1550.4,1101.2 1549.5,1099.4 1547.7,1099.9 1549.5,1095.8"/>
<polygon points="1676.3,1079.4 1681.7,1078.9 1683.1,1083.5 1684.9,1084.4 1685.8,1079.8 1689.4,1079.8 1690.8,1085.3 1692.6,1089.8 1693.0,1095.2 1691.7,1099.7 1689.9,1102.4 1685.8,1103.3 1681.3,1106.1 1676.7,1107.9 1672.2,1109.7 1670.9,1113.3 1671.3,1118.7 1672.2,1122.3 1670.4,1125.0 1674.9,1125.0 1675.8,1129.6 1679.5,1130.5 1683.1,1129.6 1684.9,1132.3 1688.5,1132.3 1689.9,1134.5 1687.6,1137.7 1684.9,1138.6 1680.4,1137.7 1675.8,1138.2 1671.3,1138.6 1667.7,1141.3 1666.8,1144.0 1669.5,1145.8 1666.8,1148.1 1662.3,1149.5 1659.6,1151.3 1660.9,1155.8 1659.6,1158.5 1656.9,1157.6 1655.0,1154.0 1651.4,1154.9 1648.7,1158.0 1644.2,1158.0 1643.3,1154.0 1640.6,1152.2 1636.1,1152.2 1632.4,1151.7 1629.7,1149.5 1626.6,1147.2 1623.4,1149.5 1618.9,1152.2 1615.3,1154.9 1611.6,1156.7 1608.0,1158.5 1607.1,1162.1 1609.8,1165.7 1615.3,1166.6 1618.9,1167.5 1619.8,1170.7 1616.2,1172.1 1611.6,1172.5 1608.9,1171.2 1607.1,1167.5 1603.5,1168.4 1600.8,1171.2 1598.1,1173.9 1594.9,1173.9 1592.7,1169.3 1594.9,1166.6 1599.0,1165.7 1600.8,1163.9 1598.1,1161.2 1595.8,1157.6 1599.4,1156.2 1598.1,1153.1 1597.2,1151.3 1599.4,1147.6 1601.7,1144.0 1601.2,1142.2 1604.4,1139.5 1605.8,1135.9 1608.0,1135.0 1609.8,1138.6 1613.5,1136.8 1617.1,1136.8 1619.8,1133.2 1623.4,1130.5 1627.9,1128.7 1631.5,1126.4 1628.8,1124.6 1623.4,1123.2 1619.8,1121.0 1618.0,1117.8 1618.9,1115.1 1623.4,1113.3 1626.1,1110.1 1628.8,1111.5 1633.3,1109.7 1637.9,1108.8 1642.4,1107.9 1642.4,1105.2 1639.7,1102.4 1637.9,1099.3 1638.8,1096.1 1643.3,1093.4 1647.8,1089.8 1652.3,1088.4 1656.9,1088.0 1660.5,1087.1 1663.2,1090.2 1665.9,1088.9 1665.9,1085.3 1669.5,1083.0 1673.1,1081.6"/>
<polygon points="1631.1,1163.5 1636.1,1163.0 1641.5,1163.5 1646.0,1163.0 1647.4,1166.6 1644.2,1169.3 1640.6,1171.2 1637.9,1173.9 1635.2,1173.4 1634.2,1170.3 1631.1,1169.3"/>
<polygon points="1703.9,1079.8 1706.1,1080.3 1707.5,1086.2 1708.4,1091.1 1703.0,1091.6 1698.4,1091.1 1697.5,1086.2 1701.2,1084.4"/>
<polygon points="1698.9,1132.7 1701.6,1133.2 1703.4,1136.8 1702.1,1140.0 1699.3,1139.1" fill="#000"/>
<polygon points="1689.9,1150.4 1693.0,1149.5 1696.2,1151.3 1697.1,1154.9 1693.9,1157.6 1694.4,1160.3 1690.3,1161.2 1688.0,1163.0 1687.6,1166.6 1684.0,1167.1 1680.4,1164.8 1681.7,1161.2 1682.6,1158.0 1686.7,1157.6 1690.3,1155.3 1689.0,1152.6"/>
<polygon points="1764.0,1050.6 1764.0,1046.1 1765.8,1042.5 1767.1,1039.8 1769.4,1042.0 1768.9,1045.2 1772.5,1047.0 1776.2,1049.3 1779.8,1047.9 1780.2,1042.5 1783.4,1039.8 1788.8,1041.1 1793.3,1042.0 1797.0,1039.3 1801.5,1038.0 1805.1,1034.4 1808.7,1032.5 1814.1,1033.9 1816.9,1036.2 1821.4,1037.1 1825.9,1038.0 1826.8,1036.6 1831.3,1037.1 1835.8,1036.6 1834.9,1040.7 1834.9,1045.2 1836.3,1047.9 1834.9,1051.5 1834.9,1054.7 1831.3,1054.2 1829.1,1057.4 1825.9,1060.6 1821.4,1060.1 1817.8,1063.7 1812.3,1062.4 1805.1,1062.8 1802.4,1066.9 1799.2,1070.5 1797.9,1074.1 1795.2,1076.9 1794.7,1081.4 1792.0,1085.4 1789.3,1089.5 1787.9,1094.0 1786.1,1097.6 1786.1,1105.8 1789.7,1107.6 1792.0,1111.2 1791.1,1113.9 1794.2,1116.6 1797.0,1121.2 1794.2,1125.7 1790.6,1129.3 1787.0,1132.0 1784.3,1135.6 1784.3,1140.1 1781.6,1144.7 1780.2,1146.1 1780.2,1151.5 1780.7,1155.2 1784.3,1155.6 1786.6,1158.8 1785.2,1162.4 1784.3,1164.6 1788.8,1163.3 1792.4,1163.3 1793.3,1167.8 1794.7,1171.4 1790.6,1173.2 1787.0,1175.9 1782.5,1177.8 1778.9,1180.5 1776.2,1181.4 1773.5,1184.1 1769.8,1186.8 1766.2,1185.0 1763.5,1185.4 1761.7,1183.2 1758.1,1184.1 1756.7,1180.9 1759.4,1177.8 1762.6,1174.1 1766.2,1171.4 1764.4,1169.6 1761.7,1169.2 1759.0,1171.4 1756.3,1174.6 1752.2,1174.6 1750.8,1171.4 1750.8,1166.9 1753.6,1165.1 1753.1,1161.5 1754.9,1157.9 1757.2,1157.0 1759.4,1157.9 1761.7,1155.2 1759.4,1152.9 1756.3,1153.8 1753.6,1151.5 1751.8,1153.3 1749.0,1157.0 1745.4,1159.7 1740.0,1161.9 1736.0,1162.6 1736.9,1159.4 1735.5,1156.7 1735.5,1153.1 1738.2,1150.4 1740.9,1147.6 1740.0,1144.0 1741.8,1141.3 1745.5,1139.1 1747.3,1135.0 1749.1,1131.4 1750.0,1127.3 1754.5,1127.8 1758.1,1128.7 1759.9,1131.4 1760.8,1128.7 1762.6,1125.9 1765.4,1127.8 1768.1,1126.9 1770.8,1125.0 1770.8,1121.4 1769.0,1117.8 1770.8,1116.0 1773.0,1112.4 1771.7,1107.9 1767.6,1105.2 1762.6,1104.2 1758.6,1102.4 1754.5,1103.3 1750.4,1105.2 1748.2,1108.8 1747.3,1112.4 1743.7,1113.3 1740.0,1115.1 1736.4,1113.3 1733.7,1109.7 1731.0,1107.0 1728.3,1109.2 1724.7,1109.7 1721.0,1106.1 1717.9,1103.3 1721.0,1102.4 1723.8,1099.7 1726.5,1097.0 1723.8,1093.4 1719.2,1092.5 1720.6,1089.8 1722.9,1086.2 1727.4,1084.8 1732.8,1083.5 1731.0,1079.8 1730.5,1076.2 1735.5,1074.0 1739.1,1071.7 1744.6,1070.8 1749.1,1071.7 1750.0,1068.1 1754.5,1067.6 1757.2,1069.9 1755.9,1073.5 1755.4,1078.0 1758.6,1078.9 1759.9,1075.3 1763.5,1072.6 1761.7,1069.4 1764.4,1066.3 1767.2,1062.7 1769.4,1059.0 1766.3,1057.2 1763.5,1053.6 1765.4,1050.0"/>
<polygon points="1792.0,1174.1 1795.2,1173.2 1798.3,1175.5 1796.5,1180.0 1793.3,1182.7 1788.8,1185.4 1780.7,1185.9 1779.8,1183.2 1784.3,1179.6 1788.8,1176.9"/>
<polygon points="1823.2,1158.8 1826.8,1155.6 1832.2,1153.8 1837.2,1151.5 1840.4,1153.3 1845.8,1154.2 1853.9,1154.7 1855.7,1158.8 1852.1,1162.4 1848.5,1166.5 1844.0,1166.9 1839.5,1169.2 1836.3,1169.2 1834.0,1166.5 1830.4,1167.4 1826.8,1166.5 1827.3,1162.4"/>
<polygon points="1799.1,889.1 1801.6,886.6 1807.9,884.8 1811.5,884.5 1811.8,893.2 1809.3,895.2 1806.1,898.8 1802.5,899.7 1800.2,895.2"/>
<polygon points="1389.0,1073.0 1393.9,1072.1 1398.4,1072.6 1398.4,1075.7 1394.8,1076.6 1392.6,1078.4 1389.9,1076.6" fill="#fff"/>
<polygon points="1025.2,1207.1 1029.3,1204.0 1034.3,1203.5 1034.7,1206.2 1031.1,1208.9 1027.5,1210.7 1025.2,1209.4" fill="#000"/>
<polygon points="1515.9,936.9 1518.7,936.4 1521.8,940.0 1521.4,945.0 1518.7,946.3 1516.9,943.2 1515.5,939.6"/>
<polygon points="1524.1,941.8 1527.7,942.3 1526.8,945.9 1524.5,948.2 1523.6,945.0" fill="#000"/>
<polygon points="1561.3,1111.6 1564.9,1109.3 1569.4,1112.1 1569.9,1116.1 1565.8,1114.8 1563.1,1113.9" fill="#000"/>
<polygon points="810.5,1286.6 812.3,1283.0 816.9,1280.3 818.8,1281.7 817.8,1284.8 813.7,1288.0 811.4,1288.4" fill="#000"/>
<polygon points="1248.2,1150.6 1250.5,1149.3 1251.7,1152.0 1250.9,1154.7 1249.1,1155.2 1247.8,1153.3" fill="#8fff70"/>
<polygon points="1315.3,1133.0 1319.8,1132.1 1322.9,1130.3 1325.7,1132.5 1325.2,1136.2 1322.5,1138.9 1320.2,1141.6 1317.1,1142.5 1315.3,1139.8"/>
<polygon points="1331.5,1152.4 1334.7,1152.4 1337.4,1157.9 1340.6,1161.5 1340.6,1166.0 1338.3,1166.5 1336.5,1163.3 1331.5,1164.6 1332.0,1158.8"/>
<polygon points="1358.7,1198.6 1361.4,1196.3 1365.4,1195.4 1368.6,1197.2 1367.3,1199.5 1370.4,1200.8 1374.9,1199.5 1377.6,1200.4 1377.2,1204.0 1374.0,1205.3 1368.6,1205.8 1365.0,1207.1 1361.4,1207.1 1358.7,1204.0"/>
<polygon points="1313.6,1197.6 1315.7,1196.4 1318.9,1196.6 1320.7,1198.6 1319.3,1200.5 1315.7,1200.7 1313.6,1199.5" fill="#8fff70"/>
</g>
<g fill="#000">
<circle cx="577.7" cy="1244.0" r="2.8"/>
<circle cx="708.8" cy="1308.0" r="2.9"/>
<circle cx="822.3" cy="1270.5" r="2.1"/>
<circle cx="818.2" cy="1275.3" r="2.6"/>
<circle cx="874.5" cy="1235.1" r="2.6"/>
<circle cx="880.0" cy="1245.0" r="2.3"/>
<circle cx="877.6" cy="1260.9" r="2.6"/>
<circle cx="1124.8" cy="1147.3" r="2.3"/>
<circle cx="1222.0" cy="1124.0" r="2.9"/>
<circle cx="1195.8" cy="1168.3" r="2.9"/>
<circle cx="1242.2" cy="1163.3" r="2.3"/>
<circle cx="1133.4" cy="1162.4" r="3.7"/>
<circle cx="1243.7" cy="1128.5" r="3.7"/>
<circle cx="1190.4" cy="1115.4" r="4.1"/>
<circle cx="1194.9" cy="1115.4" r="3.1"/>
<circle cx="1106.7" cy="1194.9" r="3.7"/>
<circle cx="1548.6" cy="1131.0" r="2.9"/>
<circle cx="1125.6" cy="1147.4" r="2.0"/>
<circle cx="1245.1" cy="1017.7" r="2.6"/>
<circle cx="1759.0" cy="1155.3" r="2.6"/>
<circle cx="1619.8" cy="1050.9" r="2.9"/>
<circle cx="1348.9" cy="1163.3" r="3.4"/>
<circle cx="1310.3" cy="1216.5" r="3.1"/>
<circle cx="1304.4" cy="1219.3" r="2.9"/>
<circle cx="1477.3" cy="1246.5" r="2.6"/>
<circle cx="1479" cy="1254.2" r="2.8"/>
</g>
<polyline points="572.7,1250.6 569.6,1261.5 566.4,1269.6 564.1,1278.7" fill="none" stroke="#000" stroke-width="2.6"/>
<polyline points="572.7,1252.0 570.9,1258.8" fill="none" stroke="#fff" stroke-width="1.0"/>
<polygon points="673.5,1227.1 682.6,1229.4 688.9,1231.6 693.4,1236.2 700.7,1237.5 707.9,1237.1 711.5,1238.0 715.1,1241.1 718.7,1242.9 722.4,1238.0 725.1,1236.2 721.5,1236.6 717.8,1238.4 714.2,1235.7 709.7,1233.0 704.3,1231.2 697.0,1229.8 689.8,1228.2 682.6,1226.7 677.2,1226.2" fill="#fff" stroke="#000" stroke-width="2.6"/>
<polyline points="665.4,1227.1 672.6,1228.0 677.2,1228.2" fill="none" stroke="#000" stroke-width="3"/>
<polyline points="700.7,1230.3 701.6,1226.2 704.7,1221.7" fill="none" stroke="#000" stroke-width="3"/>
<polyline points="713.3,1232.5 716.5,1229.8 716.0,1225.3 718.3,1220.6" fill="none" stroke="#000" stroke-width="3.2"/>
<polyline points="717.8,1236.2 723.3,1233.5 729.6,1231.6 737.3,1229.4" fill="none" stroke="#000" stroke-width="3"/>
<polyline points="691.6,1234.8 690.7,1238.9 686.2,1241.1 680.8,1242.9 675.8,1243.9 674.4,1242.0 677.6,1239.3 682.6,1239.8 688.0,1238.9" fill="none" stroke="#000" stroke-width="3"/>
<polyline points="719.5,1245.2 721.5,1242.5 726.0,1237.1" fill="none" stroke="#000" stroke-width="2.5"/>
<polygon points="721.5,1242.5 723.3,1239.8 726.9,1240.7 727.8,1244.3 724.2,1245.2" fill="#808080" stroke="#000" stroke-width="2.0"/>
<polyline points="789.3,1229.2 790.6,1226.5 796.1,1225.3 801.5,1224.1 803.3,1221.1 807.4,1219.5 812.3,1217.7 817.8,1215.2 821.4,1214.3" fill="none" stroke="#000" stroke-width="4.2"/>
<polyline points="790.6,1222.3 796.1,1221.5 802.4,1219.7 805.1,1215.7 810.5,1214.3 816.9,1213.2 818.7,1209.3 821.4,1211.1 826.8,1212.5 830.4,1213.9 833.1,1216.6 839.5,1216.6 842.2,1218.4 844.0,1221.5" fill="none" stroke="#000" stroke-width="3.6"/>
<polyline points="821.4,1214.3 825.0,1217.9 828.2,1220.6 835.8,1222.0 842.2,1220.6" fill="none" stroke="#000" stroke-width="2.6"/>
<polygon points="829.1,1214.5 832.2,1217.2 839.5,1217.2 840.5,1219.9 830.9,1220.5 827.3,1217.7 825.4,1215.2" fill="#fff" stroke="none"/>
<polyline points="816.9,1215.2 820.5,1213.4" fill="none" stroke="#fff" stroke-width="1.2"/>
<polygon points="877.4,1215.2 878.8,1207.5 883.8,1203.9 891.0,1201.6 894.6,1203.9 889.2,1206.6 884.7,1209.8 881.0,1213.4" fill="#fff" stroke="#000" stroke-width="2.5"/>
<polyline points="888.3,1204.8 893.7,1202.7" fill="none" stroke="#000" stroke-width="4"/>
<polygon points="875.6,1219.3 878.3,1217.9 884.7,1217.5 889.2,1219.3 890.1,1222.4 884.7,1223.3 879.2,1222.9" fill="#fff" stroke="#000" stroke-width="2.5"/>
<polyline points="908.1,1218.4 918.5,1211.6 924.0,1214.2 928.9,1221.1 930.6,1225.2 927.6,1227.5 926.0,1232.9" fill="none" stroke="#000" stroke-width="4"/>
<polygon points="955.3,1182.2 958.9,1181.3 966.1,1183.5 968.4,1188.5 970.2,1194.8 967.0,1197.5 967.9,1202.1 970.6,1203.9 976.1,1204.8 979.7,1206.6 982.4,1208.4 986.9,1207.5 991.4,1210.2 994.6,1214.7 991.4,1215.6 988.7,1217.4 985.1,1215.6 981.5,1212.0 977.9,1209.3 973.3,1206.6 968.8,1207.5 965.2,1204.8 959.8,1203.0 956.6,1201.2 958.9,1196.6 960.2,1192.1 959.8,1187.6 956.2,1185.8" fill="#fff" stroke="#000" stroke-width="2.2"/>
<polyline points="970.6,1205.2 977.9,1207.9 983.3,1212.9 989.6,1216.5" fill="none" stroke="#000" stroke-width="2.5"/>
<polygon points="1176.9,942.7 1181.4,942.7 1183.2,947.2 1186.8,952.6 1189.1,957.1 1190.4,963.5 1190.9,968.9 1191.3,975.2 1194.0,979.7 1199.5,984.2 1204.0,988.8 1204.9,993.3 1203.5,998.7 1203.1,1004.1 1205.3,1009.6 1210.3,1012.3 1213.0,1015.9 1212.6,1019.5 1209.4,1020.9 1204.0,1018.6 1197.6,1015.9 1192.2,1011.4 1187.7,1005.0 1185.0,997.8 1182.3,991.5 1180.9,984.2 1181.8,975.2 1180.9,966.2 1178.2,957.1 1175.5,951.7 1174.6,947.2" fill="#fff" stroke="#000" stroke-width="2.2"/>
<polygon points="1252.8,1006.9 1255.1,1007.8 1256.4,1011.4 1255.5,1016.8 1253.7,1020.4 1254.2,1027.2 1255.5,1030.4 1255.1,1034.0 1252.8,1029.5 1249.2,1029.0 1245.6,1031.3 1242.9,1034.9 1241.0,1034.0 1243.8,1031.3 1246.5,1027.6 1249.2,1022.2 1250.5,1015.9 1251.0,1008.7" fill="#fff" stroke="#000" stroke-width="2.2"/>
<polyline points="1227.9,1034.0 1230.7,1038.0 1235.6,1041.2 1241.0,1041.7 1244.7,1039.4 1246.9,1034.9 1248.3,1030.4" fill="none" stroke="#000" stroke-width="4.5"/>
<polyline points="1227.5,1034.0 1230.2,1032.6 1235.6,1033.1 1241.0,1034.0" fill="none" stroke="#000" stroke-width="2.5"/>
<polyline points="1240.1,994.2 1242.9,997.8 1248.3,1003.2 1252.8,1006.9" fill="none" stroke="#000" stroke-width="3"/>
<polyline points="1230.2,1014.1 1237.4,1010.9 1243.8,1007.8 1248.3,1004.1" fill="none" stroke="#000" stroke-width="2.6"/>
<polyline points="1245.1,1017.7 1248.3,1023.1" fill="none" stroke="#000" stroke-width="2.5"/>
<polyline points="1374.0,988.9 1375.8,993.5 1380.4,998.9 1384.0,1004.3 1385.3,1010.6 1384.0,1017.0 1379.5,1022.4 1374.9,1026.9" fill="none" stroke="#000" stroke-width="4"/>
<polyline points="1374.5,1009.3 1375.8,1014.2 1374.5,1021.5" fill="none" stroke="#000" stroke-width="3"/>
<polyline points="1800.7,896.1 1802.9,899.5 1806.1,898.6 1809.3,895.2 1811.7,892.5" fill="none" stroke="#000" stroke-width="2.4"/>
<polygon points="1551.2,914.2 1554.8,910.6 1562.1,910.6 1566.6,913.3 1563.9,917.0 1559.3,919.7 1553.0,919.7 1550.8,917.9" fill="#808080" stroke="#000" stroke-width="2.2"/>
<polygon points="1803.8,127.1 1807.4,145.2 1811.9,154.2 1817.3,163.3 1820.9,172.3 1823.7,181.4 1826.4,190.4 1829.1,201.3 1832.7,210.3 1838.1,220.3 1845.4,227.5 1849.9,235.6 1854.4,244.7 1858.9,252.8 1865.2,261.8 1871.6,270.0 1879.7,276.3 1886.9,283.5 1892.4,290.8 1900.5,295.3 1909.5,297.5 1915.0,299.5 1931.2,298.4 1931.2,277.2 1915.0,276.7 1906.8,274.5 1898.7,270.9 1890.6,265.5 1882.4,260.0 1877.0,253.7 1870.7,249.2 1867.1,242.9 1865.8,233.8 1866.5,224.8 1865.2,215.7 1861.6,207.6 1857.1,201.3 1853.5,193.1 1848.1,186.8 1841.7,179.6 1836.3,171.4 1830.9,164.2 1826.4,156.1 1823.7,147.9 1819.1,143.4 1817.3,127.1" fill="#fff" stroke="#000" stroke-width="2.4"/>
<polygon points="1835.4,186.8 1838.1,187.3 1842.6,192.2 1846.3,198.6 1850.8,203.1 1854.4,210.3 1856.2,220.8 1851.7,219.3 1848.1,213.0 1843.5,207.6 1839.9,200.4 1836.3,194.0 1834.5,189.5" fill="#808080" stroke="#000" stroke-width="2.4"/>
<polygon points="1864.4,498.3 1867.1,494.9 1871.2,493.3 1875.3,495.6 1882.1,498.3 1890.2,501.7 1895.6,501.7 1903.8,498.6 1910.5,498.0 1916.0,499.0 1926.8,499.7 1926.8,503.5 1916.0,503.1 1909.2,503.7 1902.4,505.8 1895.6,507.4 1888.8,506.5 1882.1,503.7 1875.3,502.4 1868.5,500.4" fill="#fff" stroke="#000" stroke-width="3.4"/>
<polygon points="1908.5,505.1 1911.9,509.2 1913.9,516.0 1914.6,522.7 1918.0,528.2 1921.1,533.6 1926.8,543.8 1917.3,539.0 1915.3,529.5 1911.2,522.7 1907.8,518.0 1909.9,513.2 1909.2,507.8" fill="#fff" stroke="#000" stroke-width="3.6"/>
</g>
<g stroke="#000" stroke-width="1" stroke-dasharray="1 4" fill="none" shape-rendering="crispEdges">
<line x1="789.5" y1="137.0" x2="789.5" y2="1602.0"/>
<line x1="1016.5" y1="137.0" x2="1016.5" y2="1602.0"/>
<line x1="1243.5" y1="137.0" x2="1243.5" y2="1602.0"/>
<line x1="1469.5" y1="137.0" x2="1469.5" y2="1602.0"/>
<line x1="1696.5" y1="137.0" x2="1696.5" y2="1602.0"/>
<line x1="567.0" y1="1360.5" x2="1922.0" y2="1360.5"/>
<line x1="567.0" y1="1116.5" x2="1922.0" y2="1116.5"/>
<line x1="567.0" y1="872.5" x2="1922.0" y2="872.5"/>
<line x1="567.0" y1="627.5" x2="1922.0" y2="627.5"/>
<line x1="567.0" y1="382.5" x2="1922.0" y2="382.5"/>
<line x1="567.0" y1="136.5" x2="1922.0" y2="136.5"/>
</g>
<g stroke="#000" stroke-width="2" fill="none" shape-rendering="crispEdges">
<line x1="789" y1="135.0" x2="789" y2="150.0"/>
<line x1="789" y1="1602.0" x2="789" y2="1587.0"/>
<line x1="1016" y1="135.0" x2="1016" y2="150.0"/>
<line x1="1016" y1="1602.0" x2="1016" y2="1587.0"/>
<line x1="1243" y1="135.0" x2="1243" y2="150.0"/>
<line x1="1243" y1="1602.0" x2="1243" y2="1587.0"/>
<line x1="1469" y1="135.0" x2="1469" y2="150.0"/>
<line x1="1469" y1="1602.0" x2="1469" y2="1587.0"/>
<line x1="1696" y1="135.0" x2="1696" y2="150.0"/>
<line x1="1696" y1="1602.0" x2="1696" y2="1587.0"/>
<line x1="563.0" y1="1360" x2="579.0" y2="1360"/>
<line x1="1922.0" y1="1360" x2="1907.5" y2="1360"/>
<line x1="563.0" y1="1116" x2="579.0" y2="1116"/>
<line x1="1922.0" y1="1116" x2="1907.5" y2="1116"/>
<line x1="563.0" y1="872" x2="579.0" y2="872"/>
<line x1="1922.0" y1="872" x2="1907.5" y2="872"/>
<line x1="563.0" y1="627" x2="579.0" y2="627"/>
<line x1="1922.0" y1="627" x2="1907.5" y2="627"/>
<line x1="563.0" y1="382" x2="579.0" y2="382"/>
<line x1="1922.0" y1="382" x2="1907.5" y2="382"/>
<line x1="563.0" y1="136.0" x2="579.0" y2="136.0"/>
<line x1="1922.0" y1="136.0" x2="1907.5" y2="136.0"/>
<line x1="563.0" y1="1602.0" x2="579.0" y2="1602.0"/>
<line x1="1922.0" y1="1602.0" x2="1907.5" y2="1602.0"/>
</g>
<rect x="563.0" y="135.0" width="1359.0" height="1467.0" fill="none" stroke="#000" stroke-width="2" shape-rendering="crispEdges"/>
</svg>
<div class="t big" style="left:1058.0px;top:50.4px;transform-origin:0 0;transform:scaleX(0.972);">ssflux: z =1&nbsp;&nbsp; T=1 V<span style="font-size:34px;position:relative;top:19px;">0</span></div>
<div class="t big" style="right:1849.5px;top:122.9px;">23<span class="sup">o</span>N</div>
<div class="t big" style="right:1849.5px;top:859.0px;">22<span class="sup">o</span>N</div>
<div class="t big" style="right:1849.5px;top:1589.9px;">21<span class="sup">o</span>N</div>
<div class="t sm" style="right:1841.0px;top:1340.4px;transform-origin:100% 0;transform:scaleX(0.945);">20'</div>
<div class="t sm" style="right:1841.0px;top:607.8px;transform-origin:100% 0;transform:scaleX(0.945);">20'</div>
<div class="t sm" style="right:1841.0px;top:1096.8px;transform-origin:100% 0;transform:scaleX(0.945);">40'</div>
<div class="t sm" style="right:1841.0px;top:362.5px;transform-origin:100% 0;transform:scaleX(0.945);">40'</div>
<div class="t big" style="left:562.7px;transform:translateX(-50%) scaleX(1);top:1618.2px;">111<span class="sup">o</span>E</div>
<div class="t big" style="left:1242.2px;transform:translateX(-50%) scaleX(1);top:1618.2px;">112<span class="sup">o</span>E</div>
<div class="t big" style="left:1921.7px;transform:translateX(-50%) scaleX(1);top:1618.2px;">113<span class="sup">o</span>E</div>
<div class="t sm" style="left:791.8px;transform:translateX(-50%) scaleX(0.945);top:1599.8px;">20'</div>
<div class="t sm" style="left:1471.3px;transform:translateX(-50%) scaleX(0.945);top:1599.8px;">20'</div>
<div class="t sm" style="left:1018.3px;transform:translateX(-50%) scaleX(0.945);top:1599.8px;">40'</div>
<div class="t sm" style="left:1697.8px;transform:translateX(-50%) scaleX(0.945);top:1599.8px;">40'</div>
<div class="t " style="left:631.0px;top:1462.2px;font-size:60px;font-weight:bold;color:#f00;transform-origin:0 0;transform:scaleX(0.945);">Doc. y</div>
<div class="t " style="left:882.5px;top:1462.2px;font-size:60px;font-weight:bold;color:#f00;transform-origin:0 0;transform:scaleX(0.93);">T=1</div>
<div class="t ser" style="left:1099px;top:1685.1px;">Longitude (<span class="sp">o</span>)</div>
<div class="t ser" style="left:418.3px;top:993px;transform-origin:0 0;transform:rotate(-90deg) translateY(-41.9px);">Latitude (<span class="sp">o</span>)</div>
</div></body></html>
